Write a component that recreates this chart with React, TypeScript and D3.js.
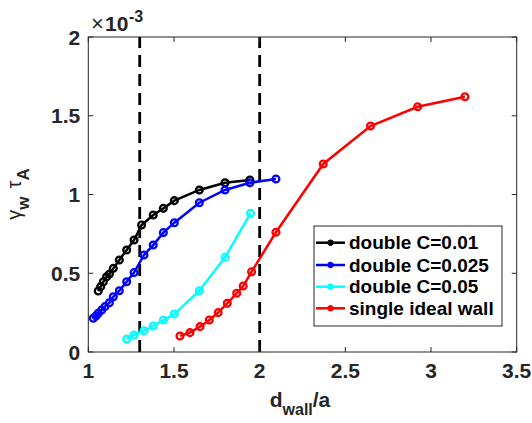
import React from 'react';
import { scaleLinear, line } from 'd3';

// values (y in units of 1e-3)
const xTicks = [1, 1.5, 2, 2.5, 3, 3.5];
const yTicks = [0, 0.5, 1, 1.5, 2];
const dashedX = [1.3, 2];

const c01X = [1.058, 1.072, 1.088, 1.107, 1.123, 1.146, 1.181, 1.224, 1.267, 1.311, 1.379, 1.438, 1.502, 1.648, 1.798, 1.943];
const c01Y = [0.387, 0.415, 0.446, 0.478, 0.495, 0.531, 0.584, 0.648, 0.711, 0.806, 0.87, 0.912, 0.961, 1.029, 1.075, 1.092];

const c025X = [1.029, 1.045, 1.058, 1.078, 1.097, 1.123, 1.146, 1.181, 1.224, 1.267, 1.325, 1.379, 1.438, 1.502, 1.648, 1.798, 1.943, 2.095];
const c025Y = [0.214, 0.229, 0.246, 0.267, 0.288, 0.313, 0.351, 0.389, 0.446, 0.504, 0.616, 0.679, 0.758, 0.821, 0.948, 1.029, 1.075, 1.098];

const c05X = [1.224, 1.267, 1.325, 1.379, 1.438, 1.502, 1.648, 1.798, 1.947];
const c05Y = [0.083, 0.108, 0.135, 0.165, 0.203, 0.241, 0.389, 0.601, 0.881];

const singleX = [1.535, 1.593, 1.652, 1.706, 1.758, 1.811, 1.866, 1.904, 1.953, 2.095, 2.371, 2.647, 2.922, 3.198];
const singleY = [0.102, 0.123, 0.161, 0.203, 0.25, 0.309, 0.373, 0.419, 0.51, 0.76, 1.194, 1.435, 1.557, 1.621];

const seriesNames = ['double C=0.01', 'double C=0.025', 'double C=0.05', 'single ideal wall'];
const seriesColors = ['#000000', '#0000ff', '#00ffff', '#ff0000'];

const series = [
  { xs: c01X, ys: c01Y },
  { xs: c025X, ys: c025Y },
  { xs: c05X, ys: c05Y },
  { xs: singleX, ys: singleY },
];

const W = 532, H = 423;
const left = 88.3, right = 516.7, top = 37, bottom = 352;
const axisColor = '#262626';
const font = '"Liberation Sans", Arial, Helvetica, sans-serif';

export default function App() {
  const x = scaleLinear().domain([1, 3.5]).range([left, right]);
  const y = scaleLinear().domain([0, 2]).range([bottom, top]);
  const tickLen = 5;

  const lineGen = line<[number, number]>().x(d => x(d[0])).y(d => y(d[1]));

  const legX = 314, legY = 226, legW = 188, legH = 100;
  const rowY = [242.7, 265, 286.7, 308.3];

  return (
    <svg width={W} height={H} style={{ position: 'absolute', left: 0, top: 0, background: '#fff' }} fontFamily={font}>
      <rect x={0} y={0} width={W} height={H} fill="#fff" />

      {/* dashed reference lines */}
      {dashedX.map(v => (
        <line key={v} x1={x(v)} x2={x(v)} y1={y(0)} y2={y(2)} stroke="#000" strokeWidth={2.8} strokeDasharray="12,7" />
      ))}

      {/* series */}
      {series.map((s, i) => {
        const pts = s.xs.map((v, j) => [v, s.ys[j]] as [number, number]);
        return (
          <g key={i} stroke={seriesColors[i]} fill="none" strokeWidth={2.5}>
            <path d={lineGen(pts) || ''} />
            {pts.map((p, j) => (
              <circle key={j} cx={x(p[0])} cy={y(p[1])} r={3.4} strokeWidth={2.3} />
            ))}
          </g>
        );
      })}

      {/* axes box */}
      <rect x={left} y={top} width={right - left} height={bottom - top} fill="none" stroke={axisColor} strokeWidth={1} />
      {xTicks.map(t => (
        <g key={'x' + t}>
          <line x1={x(t)} x2={x(t)} y1={bottom} y2={bottom - tickLen} stroke={axisColor} />
          <line x1={x(t)} x2={x(t)} y1={top} y2={top + tickLen} stroke={axisColor} />
          <text x={x(t)} y={bottom + 26} textAnchor="middle" fontSize={21} fontWeight="bold" fill={axisColor}>{t}</text>
        </g>
      ))}
      {yTicks.map(t => (
        <g key={'y' + t}>
          <line x1={left} x2={left + tickLen} y1={y(t)} y2={y(t)} stroke={axisColor} />
          <line x1={right} x2={right - tickLen} y1={y(t)} y2={y(t)} stroke={axisColor} />
          <text x={left - 8} y={y(t) + 7.5} textAnchor="end" fontSize={21} fontWeight="bold" fill={axisColor}>{t}</text>
        </g>
      ))}

      {/* exponent */}
      <text x={91} y={31} fontSize={22} fill={axisColor}>×</text>
      <text x={105} y={31} fontSize={21} fontWeight="bold" fill={axisColor}>10</text>
      <text x={129} y={22} fontSize={16} fontWeight="bold" fill={axisColor}>-3</text>

      {/* x label */}
      <text x={300} y={407} textAnchor="middle" fill={axisColor} fontWeight="bold" style={{ fontSize: 21 }}>
        <tspan style={{ fontSize: 21 }}>d</tspan>
        <tspan style={{ fontSize: 16 }} dy={8}>wall</tspan>
        <tspan style={{ fontSize: 21 }} dy={-8}>/a</tspan>
      </text>

      {/* y label */}
      <text transform="translate(21,194) rotate(-90)" textAnchor="middle" fill={axisColor} style={{ fontSize: 20 }}>
        <tspan style={{ fontSize: 20 }}>γ</tspan>
        <tspan style={{ fontSize: 17, fontWeight: 'bold' }} dy={8}>w</tspan>
        <tspan style={{ fontSize: 20 }} dy={-8} dx={8}>τ</tspan>
        <tspan style={{ fontSize: 17, fontWeight: 'bold' }} dy={8}>A</tspan>
      </text>

      {/* legend */}
      <rect x={legX} y={legY} width={legW} height={legH} fill="#fff" stroke={axisColor} strokeWidth={1} />
      {seriesNames.map((n, i) => (
        <g key={n}>
          <line x1={316} x2={345} y1={rowY[i]} y2={rowY[i]} stroke={seriesColors[i]} strokeWidth={2.5} />
          <circle cx={330.5} cy={rowY[i]} r={2.8} fill={seriesColors[i]} stroke={seriesColors[i]} strokeWidth={1} />
          <text x={349} y={rowY[i] + 6.5} fontSize={19} fontWeight="bold" fill="#000">{n}</text>
        </g>
      ))}
    </svg>
  );
}
